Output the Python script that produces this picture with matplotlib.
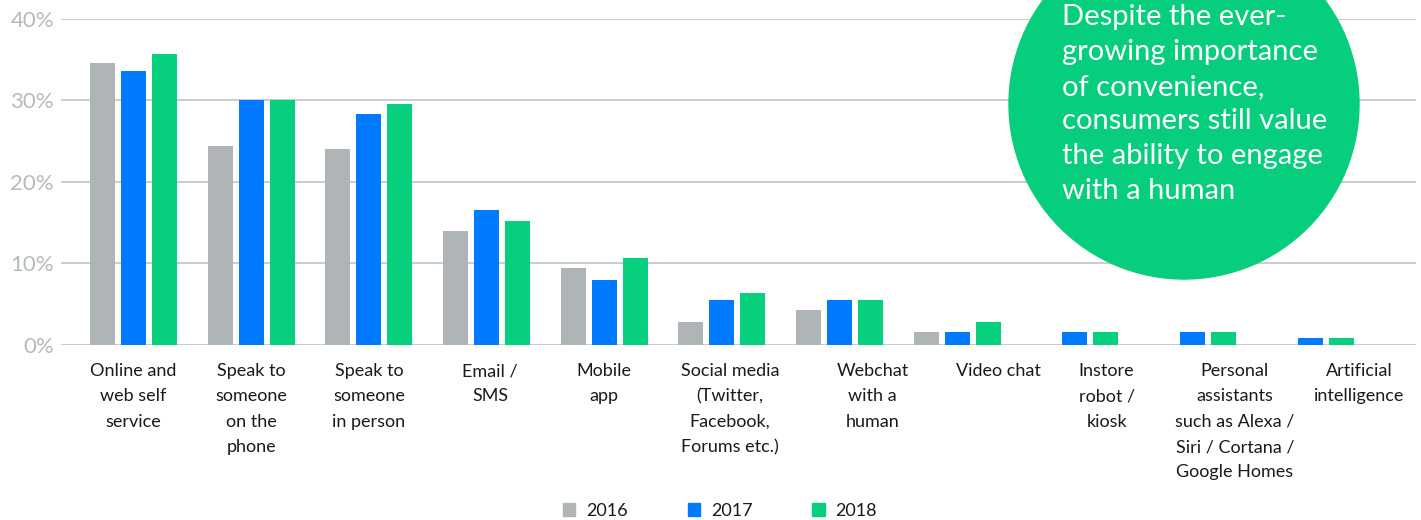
import numpy as np
import matplotlib
matplotlib.use('Agg')
import matplotlib.pyplot as plt
from matplotlib.patches import Circle, Patch

plt.rcParams['font.family'] = ['Lato', 'DejaVu Sans']

categories = ['Online and\nweb self\nservice',
              'Speak to\nsomeone\non the\nphone',
              'Speak to\nsomeone\nin person',
              'Email /\nSMS',
              'Mobile\napp',
              'Social media\n(Twitter,\nFacebook,\nForums etc.)',
              'Webchat\nwith a\nhuman',
              'Video chat',
              'Instore\nrobot /\nkiosk',
              'Personal\nassistants\nsuch as Alexa /\nSiri / Cortana /\nGoogle Homes',
              'Artificial\nintelligence']
years = ['2016', '2017', '2018']
v2016 = [34.6, 24.4, 24.0, 14.0, 9.4, 2.8, 4.3, 1.6, 0, 0, 0]
v2017 = [33.6, 30.0, 28.3, 16.5, 8.0, 5.5, 5.5, 1.6, 1.6, 1.6, 0.9]
v2018 = [35.7, 30.0, 29.5, 15.2, 10.7, 6.4, 5.5, 2.8, 1.6, 1.6, 0.9]
note = ('Despite the ever-\ngrowing importance\nof convenience,\n'
        'consumers still value\nthe ability to engage\nwith a human')

colors = ['#afb5b7', '#007bff', '#06cf7d']
# labels in the original are not exactly centred under their groups
label_shift = [0, 0, 0, 0.03, 0, 0.07, 0.28, 0.35, 0.27, 0.36, 0.42]

W, H = 1421, 520
fig = plt.figure(figsize=(W / 100, H / 100), dpi=100)
ax = fig.add_axes([61 / W, 175 / H, 1355 / W, 326.3 / H])

x = np.arange(len(categories))
width = 0.2126
offs = [-0.2636, 0, 0.2636]
for vals, off, c, lab in zip([v2016, v2017, v2018], offs, colors, years):
    ax.bar(x + off, vals, width, color=c, label=lab, zorder=3)

ax.set_xlim(-0.617, 10.9)
ax.set_ylim(0, 40)
ax.set_yticks([0, 10, 20, 30, 40])
ax.set_yticklabels(['0%', '10%', '20%', '30%', '40%'])
ax.yaxis.grid(True, color='#c5c9cc', linewidth=1.3, zorder=0)
ax.set_axisbelow(True)
for s in ax.spines.values():
    s.set_visible(False)
ax.tick_params(axis='y', length=0, pad=5, labelsize=16, labelcolor='#b5babd')
ax.set_xticks(x + np.array(label_shift))
ax.set_xticklabels(categories, fontsize=13, color='#1a1a1a', linespacing=1.72)
ax.tick_params(axis='x', length=0, pad=13)

handles = [Patch(color=c, label=y) for c, y in zip(colors, years)]
fig.legend(handles=handles, loc='center', bbox_to_anchor=(720 / W, 9 / H),
           ncol=3, frameon=False, fontsize=13, handlelength=0.7, handleheight=0.7,
           handletextpad=0.6, columnspacing=3.3, labelcolor='#1a1a1a',
           borderaxespad=0, borderpad=0)

circ = Circle((11.84, 4.16), 1.75, transform=fig.dpi_scale_trans,
              color='#06ce7c', zorder=5)
fig.patches.append(circ)
fig.text(1062 / W, 1 - 4 / H, note, color='white', fontsize=21, ha='left',
         va='top', linespacing=1.42, zorder=6)

fig.savefig('out.png', dpi=100)
